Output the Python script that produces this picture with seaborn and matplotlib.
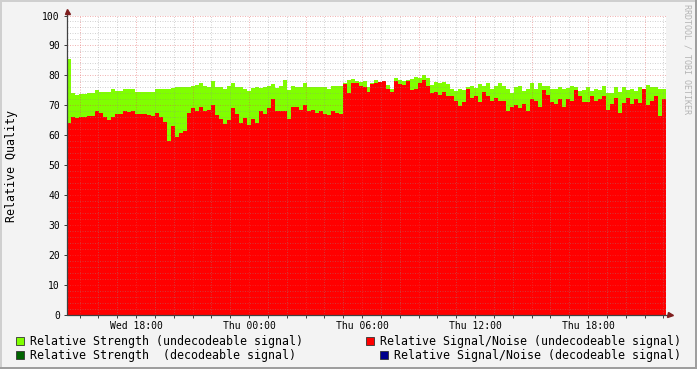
import numpy as np
import pandas as pd
import matplotlib
matplotlib.use("Agg")
import matplotlib.pyplot as plt
from matplotlib.patches import Rectangle
import seaborn as sns

# ---------------- data ----------------
span_minutes = 1908  # Wed 14:20 -> Thu 22:08

strength = [
    85.5, 74.0, 73.6, 73.7, 73.8, 74.1, 74.0, 75.0, 74.3, 74.5,
    74.6, 75.3, 74.7, 74.8, 75.3, 75.3, 75.3, 74.4, 74.3, 74.3,
    74.6, 74.4, 75.3, 75.3, 75.3, 75.3, 75.9, 76.1, 76.1, 76.1,
    76.1, 76.5, 76.8, 77.6, 76.6, 76.0, 78.0, 76.1, 76.1, 75.3,
    76.5, 77.5, 76.1, 76.0, 75.5, 74.7, 75.8, 76.0, 75.9, 76.1,
    76.5, 77.2, 75.8, 76.5, 78.4, 75.0, 76.4, 76.1, 76.1, 77.5,
    76.1, 76.1, 76.1, 76.1, 76.1, 75.5, 76.3, 76.3, 76.3, 77.5,
    78.4, 78.8, 78.0, 77.8, 78.0, 76.1, 77.5, 78.5, 77.7, 78.2,
    76.8, 75.5, 79.1, 78.6, 78.2, 78.3, 78.8, 79.5, 79.1, 80.2,
    79.0, 76.8, 77.7, 77.5, 77.8, 77.0, 75.5, 74.7, 75.5, 75.0,
    76.1, 76.5, 75.8, 77.2, 76.5, 77.3, 75.5, 76.6, 77.5, 76.3,
    75.5, 74.1, 76.0, 76.3, 74.7, 75.3, 77.5, 75.5, 77.5, 76.5,
    76.5, 75.6, 75.3, 76.0, 75.5, 75.8, 76.5, 76.1, 74.9, 75.2,
    76.0, 74.7, 75.5, 75.0, 76.5, 74.0, 74.2, 76.1, 74.4, 76.1,
    75.0, 75.5, 74.7, 76.1, 75.5, 76.9, 76.0, 76.2, 75.5, 75.3,
]

snr = [
    64.0, 66.0, 65.8, 66.1, 66.0, 66.4, 66.6, 68.0, 67.6, 66.0,
    65.2, 66.1, 67.0, 67.2, 68.0, 67.8, 68.0, 67.1, 67.2, 67.0,
    66.8, 66.5, 67.5, 66.0, 64.6, 58.0, 63.0, 59.5, 60.8, 61.5,
    67.5, 69.0, 68.0, 69.5, 68.0, 68.5, 70.0, 66.8, 65.5, 63.8,
    65.0, 69.0, 67.2, 64.0, 65.8, 63.5, 65.5, 64.1, 68.0, 67.0,
    69.0, 72.2, 68.0, 68.0, 68.0, 65.5, 69.5, 69.5, 68.5, 70.0,
    68.2, 68.4, 67.5, 68.0, 67.0, 66.8, 68.0, 67.5, 67.0, 77.0,
    74.0, 77.5, 77.5, 76.4, 76.0, 74.5, 77.0, 77.5, 77.7, 78.0,
    75.5, 74.5, 78.2, 77.0, 76.8, 78.0, 75.1, 75.6, 77.5, 78.5,
    76.4, 74.0, 74.5, 73.5, 74.5, 73.0, 73.0, 71.5, 69.8, 71.0,
    75.5, 72.5, 73.0, 71.0, 74.5, 73.0, 71.5, 72.5, 71.5, 71.5,
    68.0, 69.5, 70.0, 69.0, 70.5, 68.0, 72.0, 71.5, 69.5, 75.0,
    73.5, 71.0, 70.5, 72.0, 69.5, 72.0, 71.5, 75.0, 73.0, 71.0,
    71.0, 73.0, 71.4, 72.0, 73.0, 68.5, 70.5, 72.5, 67.5, 70.8,
    72.4, 70.5, 72.0, 70.8, 75.3, 70.0, 71.5, 73.0, 66.5, 72.0,
]

tick_minutes = [220, 580, 940, 1300, 1660]
tick_labels = ["Wed 18:00", "Thu 00:00", "Thu 06:00", "Thu 12:00", "Thu 18:00"]
y_ticks = [0, 10, 20, 30, 40, 50, 60, 70, 80, 90, 100]

legend_labels = [
    "Relative Strength (undecodeable signal)",
    "Relative Signal/Noise (undecodeable signal)",
    "Relative Strength  (decodeable signal)",
    "Relative Signal/Noise (decodeable signal)",
]

# ---------------- style ----------------
GREEN = "#80FF00"
RED = "#FF0000"
DKGREEN = "#006400"
BLUE = "#00008C"
BACK = "#F3F3F3"
MINOR = (0.56, 0.56, 0.56, 0.38)
MAJOR = (0.87, 0.31, 0.31, 0.42)
AXIS = "#404040"
ARROW = "#7F1F1F"

sns.set_theme(style="white")
plt.rcParams["font.family"] = ["DejaVu Sans Mono", "DejaVu Sans"]

W, H = 697, 369
fig = plt.figure(figsize=(W / 100, H / 100), dpi=100, facecolor=BACK)
ax = fig.add_axes([67 / W, 54 / H, 599 / W, 299.5 / H])
ax.set_facecolor("white")

n_bins = len(strength)
step = span_minutes / n_bins
df = pd.DataFrame({"minute": (np.arange(n_bins) + 0.5) * step,
                   "strength": strength, "snr": snr})

sns.histplot(data=df, x="minute", weights="strength", bins=n_bins,
             binrange=(0, span_minutes), element="step", fill=True,
             color=GREEN, alpha=1, linewidth=0, ax=ax, zorder=1)
sns.histplot(data=df, x="minute", weights="snr", bins=n_bins,
             binrange=(0, span_minutes), element="step", fill=True,
             color=RED, alpha=1, linewidth=0, ax=ax, zorder=2)

ax.set_xlim(0, span_minutes)
ax.set_ylim(0, 100)
for s in ax.spines.values():
    s.set_visible(False)
ax.set_xlabel("")
ax.set_ylabel("")

# grid
dash = (0, (1, 1.5))
for v in range(2, 101, 2):
    col = MAJOR if v % 10 == 0 else MINOR
    ax.axhline(v, color=col, lw=0.72, ls=dash, zorder=5)
for m in range(40, span_minutes, 60):
    col = MAJOR if (m - 40) % 180 == 0 else MINOR
    ax.axvline(m, color=col, lw=0.72, ls=dash, zorder=5)

# ticks
ax.set_xticks(tick_minutes)
ax.set_xticklabels(tick_labels)
ax.set_xticks(list(range(40, span_minutes, 60)), minor=True)
ax.set_yticks(y_ticks)
ax.set_yticklabels([str(v) for v in y_ticks])
ax.tick_params(axis="x", which="both", bottom=True, length=1.8, width=0.72,
               color=AXIS, direction="out")
ax.tick_params(axis="x", which="major", pad=2.2, labelsize=7, labelcolor="black")
ax.tick_params(axis="y", which="major", left=True, length=2.5, width=0.72,
               color=AXIS, direction="out", pad=2.6, labelsize=7,
               labelcolor="black")

# axes with arrows
ax.plot([0, 0], [0, 101.5], color=AXIS, lw=0.9, clip_on=False, zorder=6)
ax.plot([0, 1917], [0, 0], color=AXIS, lw=0.9, clip_on=False, zorder=6)
ax.plot([0], [101.6], marker="^", ms=3.6, color=ARROW, mec=ARROW,
        clip_on=False, zorder=7)
ax.plot([1920], [0], marker=">", ms=3.6, color=ARROW, mec=ARROW,
        clip_on=False, zorder=7)

# y label
fig.text(12 / W, 1 - 165.5 / H, "Relative Quality", rotation=90,
         ha="center", va="center", fontsize=8.4, color="black")

# watermark
fig.text(687.5 / W, 1 - 3.5 / H, "RRDTOOL / TOBI OETIKER", rotation=270,
         ha="center", va="top", fontsize=6.0, color="#B4B4B4")

# legend
def legend_item(xbox, ybox, color, xtext, text):
    fig.patches.append(Rectangle((xbox / W, 1 - (ybox + 8) / H), 8 / W, 8 / H,
                                 transform=fig.transFigure, facecolor=color,
                                 edgecolor="#333333", lw=0.6))
    fig.text(xtext / W, 1 - (ybox + 4.5) / H, text, ha="left", va="center",
             fontsize=8.35, color="black")

legend_item(15.5, 336.5, GREEN, 30, legend_labels[0])
legend_item(365.5, 336.5, RED, 380, legend_labels[1])
legend_item(15.5, 350.5, DKGREEN, 30, legend_labels[2])
legend_item(379.5, 350.5, BLUE, 394, legend_labels[3])

# 3D border
fig.patches.append(Rectangle((0, 1 - 2 / H), 1, 2 / H, transform=fig.transFigure,
                             facecolor="#CFCFCF", edgecolor="none"))
fig.patches.append(Rectangle((0, 0), 2 / W, 1, transform=fig.transFigure,
                             facecolor="#CFCFCF", edgecolor="none"))
fig.patches.append(Rectangle((0, 0), 1, 2 / H, transform=fig.transFigure,
                             facecolor="#9E9E9E", edgecolor="none"))
fig.patches.append(Rectangle((1 - 2 / W, 0), 2 / W, 1, transform=fig.transFigure,
                             facecolor="#9E9E9E", edgecolor="none"))

fig.savefig("out.png", dpi=100, facecolor=BACK)
